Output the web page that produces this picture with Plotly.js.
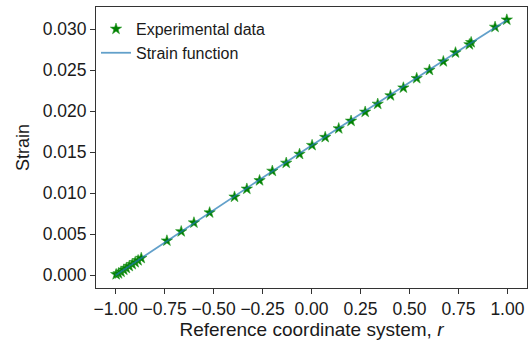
<!DOCTYPE html>
<html>
<head>
<meta charset="utf-8">
<script src="https://cdn.plot.ly/plotly-3.0.1.min.js"></script>
<style>html,body{margin:0;padding:0;background:#fff;}#chart{width:531px;height:345px;}</style>
</head>
<body>
<div id="chart"></div>
<script>
// Experimental data (reference coordinate r, strain)
const expR = [-0.997, -0.985, -0.972, -0.958, -0.945, -0.930, -0.915, -0.900, -0.885, -0.869,
  -0.738, -0.665, -0.600, -0.520, -0.393, -0.330, -0.265, -0.200, -0.129, -0.061,
  0.003, 0.070, 0.139, 0.202, 0.274, 0.338, 0.403, 0.469, 0.537, 0.602,
  0.673, 0.735, 0.806, 0.815, 0.937, 0.997];
const expStrain = [0.0001, 0.0002, 0.0004, 0.00065, 0.00086, 0.0011, 0.00133, 0.00157, 0.0018, 0.00208,
  0.00420, 0.00533, 0.00640, 0.00763, 0.00955, 0.01052, 0.01155, 0.01270, 0.01368, 0.01476,
  0.01584, 0.01682, 0.01788, 0.01880, 0.01990, 0.02087, 0.02190, 0.02285, 0.02400, 0.02500,
  0.02605, 0.02713, 0.02812, 0.02838, 0.03025, 0.03113];
// Strain function curve
const lineR = [-1, -0.75, -0.5, -0.25, 0, 0.25, 0.5, 0.75, 1];
const lineStrain = [0, 0.00399, 0.00796, 0.01189, 0.0158, 0.01968, 0.02352, 0.02734, 0.03113];
const xTicks = [-1, -0.75, -0.5, -0.25, 0, 0.25, 0.5, 0.75, 1];
const yTicks = [0, 0.005, 0.010, 0.015, 0.020, 0.025, 0.030];

const fam = 'Liberation Sans, Arial, sans-serif';
const txt = '#1a1a1a';

const traces = [
  {x: expR, y: expStrain, type: 'scatter', mode: 'markers', name: 'Experimental data',
   marker: {symbol: 'star', size: 8.5, color: '#008000', line: {color: '#2a9a2a', width: 0.6}}},
  {x: lineR, y: lineStrain, type: 'scatter', mode: 'lines', name: 'Strain function',
   line: {color: '#1f77b4', width: 1.8}, opacity: 0.7}
];

const layout = {
  width: 531, height: 345,
  margin: {l: 96, r: 4, t: 7, b: 57},
  paper_bgcolor: '#fff', plot_bgcolor: '#fff',
  font: {family: fam, size: 17.5, color: txt},
  showlegend: true,
  legend: {x: 0.0, y: 0.982, xanchor: 'left', yanchor: 'top', bgcolor: 'rgba(255,255,255,0.8)',
    font: {family: fam, size: 16, color: txt}, tracegroupgap: 0, itemwidth: 30},
  xaxis: {
    range: [-1.1, 1.1], tickvals: xTicks, tickformat: '.2f',
    tickfont: {family: fam, size: 17.5, color: txt},
    showgrid: false, zeroline: false, showline: true, mirror: true, linecolor: '#333', linewidth: 1,
    ticks: 'outside', ticklen: 5, tickcolor: '#333',
    title: {text: 'Reference coordinate system, <i>r</i>', font: {family: fam, size: 19, color: txt}, standoff: 4}
  },
  yaxis: {
    range: [-0.00156, 0.03269], tickvals: yTicks, tickformat: '.3f',
    tickfont: {family: fam, size: 17.5, color: txt},
    showgrid: false, zeroline: false, showline: true, mirror: true, linecolor: '#333', linewidth: 1,
    ticks: 'outside', ticklen: 5, tickcolor: '#333',
    title: {text: 'Strain', font: {family: fam, size: 18, color: txt}, standoff: 8}
  }
};

Plotly.newPlot('chart', traces, layout, {displayModeBar: false, staticPlot: true});
</script>
</body>
</html>
